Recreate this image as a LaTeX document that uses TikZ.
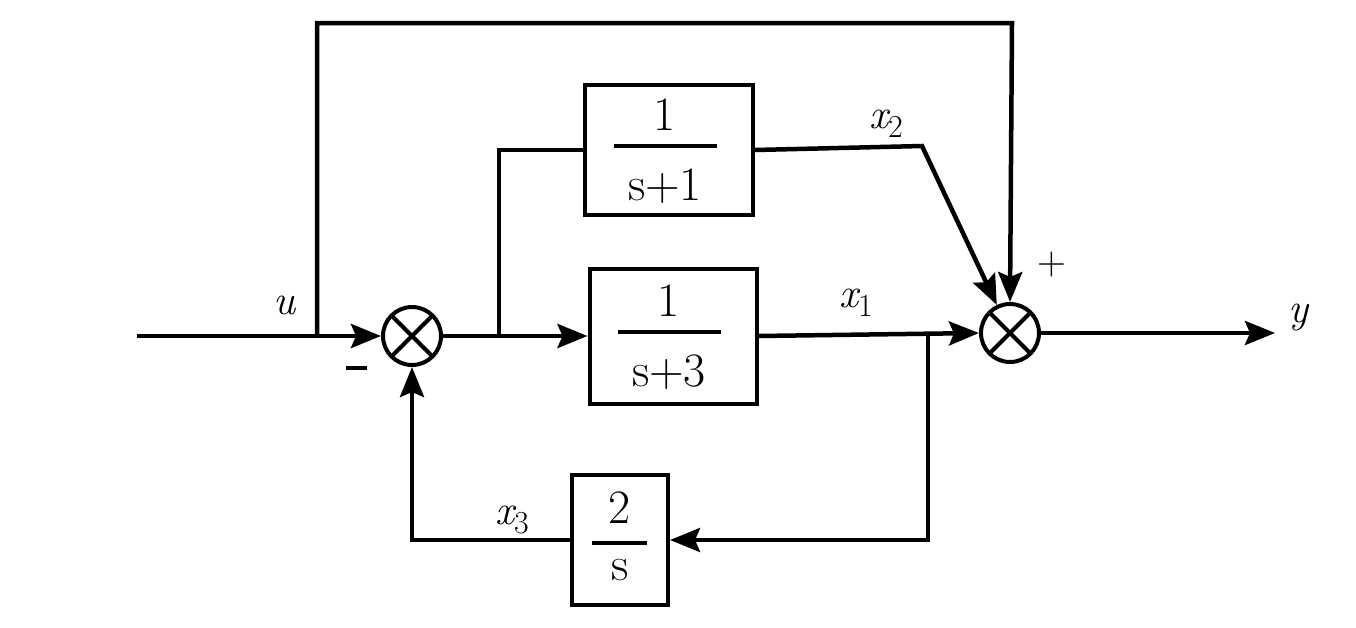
\documentclass[tikz,border=0pt]{standalone}
\usetikzlibrary{arrows.meta,calc}
\newcommand{\varlbl}[2]{{\itshape #1}\raisebox{-9pt}{\fontsize{32}{32}\selectfont #2}}
\begin{document}
\begin{tikzpicture}[x=1pt,y=-1pt,
  line width=4.5pt,
  arr/.style={-{Stealth[length=30pt,width=24pt,inset=5pt]}},
  blockbox/.style={draw,line width=4pt,minimum width=#1,inner sep=0pt},
  sumj/.style={draw,circle,line width=4pt,minimum size=58pt,inner sep=0pt,
    path picture={\draw[line width=4pt] (path picture bounding box.north west)--(path picture bounding box.south east)
      (path picture bounding box.north east)--(path picture bounding box.south west);}},
  frac/.style={font=\fontsize{48}{52}\selectfont,inner sep=0pt},
  lbl/.style={font=\fontsize{42}{46}\selectfont,inner sep=0pt},
  bar/.style={line width=4pt}]
\useasboundingbox (0,0) rectangle (1356,627);

% junctions
\node[sumj] (s1) at (412,336) {};
\node[sumj] (s2) at (1010,333) {};

% blocks
\node[blockbox=168pt,minimum height=130pt] (b1) at (669,150) {};
\node[blockbox=167pt,minimum height=135pt] (b2) at (673,336) {};
\node[blockbox=96pt,minimum height=130pt] (b3) at (620,540) {};

% block texts
\node[frac] (n1) at (665,115) {1};
\node[frac] (d1) at (665,186) {s+1};
\coordinate (bl1) at (614,146); \coordinate (br1) at (717,146);
\draw[bar] (bl1) -- (br1);

\node[frac] (n2) at (669,301) {1};
\node[frac] (d2) at (669,372) {s+3};
\coordinate (bl2) at (618,332); \coordinate (br2) at (721,332);
\draw[bar] (bl2) -- (br2);

\node[frac] (n3) at (620,508) {2};
\node[frac] (d3) at (620,570) {s};
\coordinate (bl3) at (592,543); \coordinate (br3) at (647,543);
\draw[bar] (bl3) -- (br3);

% coordinates
\coordinate (in) at (137,336);
\coordinate (ubr) at (317,336);
\coordinate (top) at (1012,23);
\coordinate (br) at (499,336);
\coordinate (x2c) at (922,146);
\coordinate (x1br) at (928,336);
\coordinate (yend) at (1275,333);

% connectors
\draw (in) -- (ubr);
\draw[arr] (ubr) -- (s1.west);
\draw[arr] (ubr) |- (top) -- (s2.north);
\draw (s1.east) -- (br);
\draw[arr] (br) -- (b2.west);
\draw (br) |- (b1.west);
\draw[arr] (b1.east) -- (x2c) -- (s2);
\draw[arr] (b2.east) -- (s2.west);
\draw[arr] (x1br) |- (b3.east);
\draw[arr] (b3.west) -| (s1.south);
\draw[arr] (s2.east) -- (yend);

% labels
\node[lbl] (lu) at (285,305) {\itshape u};
\node[lbl] (lx1) at (856,303) {\varlbl{x}{1}};
\node[lbl] (lx2) at (886,124) {\varlbl{x}{2}};
\node[lbl] (lx3) at (512,520) {\varlbl{x}{3}};
\node[lbl] (ly) at (1298,318) {\itshape y};
\node[font=\fontsize{40}{42}\selectfont,inner sep=0pt] (plus) at (1052,265) {+};
\node[inner sep=0pt] (minus) at (356,368) {\rule{21pt}{4.5pt}};
\end{tikzpicture}
\end{document}
